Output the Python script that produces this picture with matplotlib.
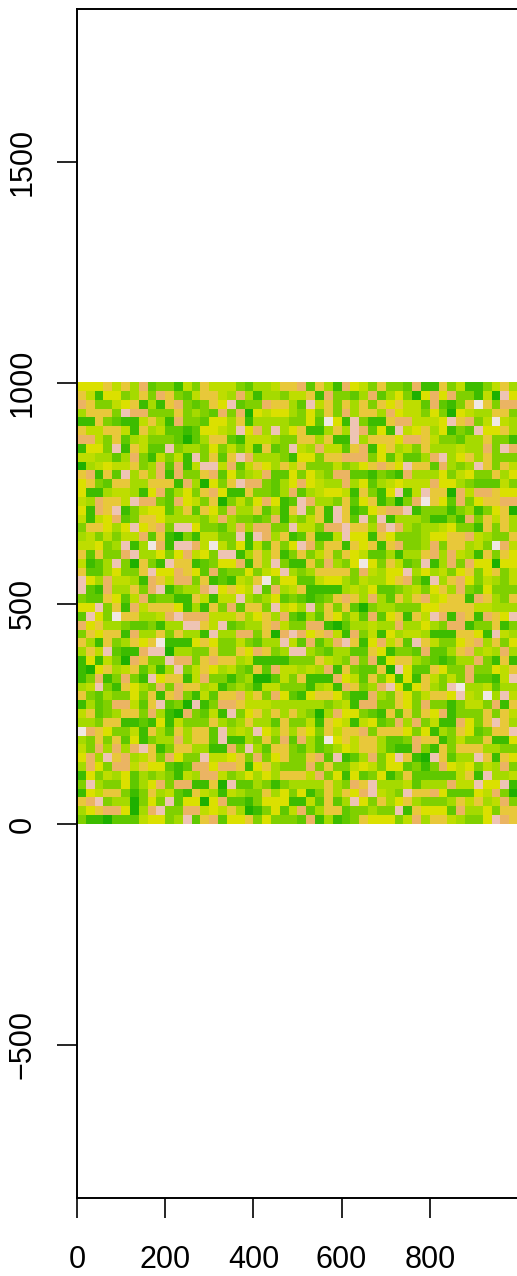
import matplotlib

matplotlib.use("Agg")

import matplotlib.pyplot as plt
import numpy as np
from matplotlib.colors import ListedColormap

plt.rcParams["font.family"] = ["Liberation Sans", "DejaVu Sans"]

# colour class of each cell, top row first
cells_left = [
    "66675 74823 31537 55532 44577", "75166 34738 73257 75484 14435",
    "87335 67141 78323 76923 38774", "47773 98833 37343 28380 65664",
    "11732 11574 18332 66471 44443", "75577 51745 22126 65496 84946",
    "88537 24533 32024 77215 55433", "16639 17522 93443 63535 17239",
    "55442 48315 35193 72798 44431", "04565 57348 28159 95825 76475",
    "78172 94748 18337 82634 58226", "67327 74477 71840 63798 83246",
    "61145 54168 24637 86117 33248", "54877 59883 28653 70353 68612",
    "61879 13566 24727 63844 72417", "51568 23776 44443 58433 23814",
    "37764 69678 39963 32484 88339", "45353 55827 10315 53391 98471",
    "55634 914a8 19985 a5361 52736", "72733 89446 36856 39914 74713",
    "51249 30731 97712 36681 74931", "72246 33796 68762 82336 35694",
    "96485 54187 58837 12154 7a366", "92184 47389 13448 96765 92845",
    "32276 25823 31175 15594 34623", "66937 18577 76141 73827 73956",
    "2963a 77445 89888 55574 67482", "86744 32231 44997 59234 47853",
    "37677 18447 37441 94488 37089", "74173 4767a 11167 63353 24495",
    "47592 11899 04433 73376 87349", "16153 08733 98837 87745 11113",
    "10674 57241 49357 64532 72855", "13813 83196 77158 33134 00253",
    "45931 76438 38774 51343 15533", "73243 36371 78315 27785 73862",
    "14238 85279 23091 38875 55444", "57234 77384 10832 51936 74747",
    "44377 11216 15333 74347 44273", "a8763 35174 27477 29454 96474",
    "43737 26134 48477 29114 37382", "53848 48971 37744 11839 42773",
    "68497 84573 86339 55673 83673", "48638 85766 21288 68871 67433",
    "16354 62434 31548 85346 46477", "39433 62468 38811 70922 43134",
    "16577 31374 52175 41543 37463", "78934 40363 92660 68221 36661",
    "46788 60489 33885 65740 13625", "31102 22566 34927 82667 36333",
]
cells_right = [
    "82741 86537 33281 17351 13574", "57183 32482 46306 86833 15096",
    "29573 74737 67552 82137 a7388", "36373 84774 86553 63065 44773",
    "362a6 19311 78855 56978 35a54", "71147 49826 19567 46132 96674",
    "77471 19477 76887 53324 47331", "54855 27816 74537 44454 48398",
    "66377 88836 25224 89467 47333", "73335 34678 76977 28434 97375",
    "36438 82213 21844 46356 33746", "86544 84624 56555 86643 22253",
    "24566 51731 69159 77085 88766", "98443 72671 3038a 76283 67788",
    "93719 71267 88913 33134 13670", "35719 72939 14443 11318 37574",
    "55388 97748 98434 45633 17374", "27115 96617 63334 66778 54337",
    "98377 17671 78334 83774 53a85", "73573 76522 41447 84854 17376",
    "17384 36a63 75239 14838 66066", "34777 73854 66946 45367 36735",
    "22566 43544 67831 94786 35435", "71111 45462 23453 67483 26333",
    "21237 87484 27478 56771 87437", "49373 72034 43336 67777 55444",
    "14276 35282 67175 98187 18769", "38810 24454 48446 43881 33713",
    "86785 18351 64554 11177 61954", "28248 97168 57297 53367 84736",
    "94324 42276 13328 22478 45484", "33754 38381 67743 21244 83171",
    "45481 73227 09622 76338 33657", "71118 65273 61617 53538 22159",
    "31451 87348 96167 439a4 45244", "16776 31184 37635 77695 4a495",
    "44434 51883 37638 33135 53817", "43048 66321 72737 68133 37375",
    "35176 51562 38483 51186 37974", "76375 77837 77636 14376 23779",
    "842a6 75774 22387 71353 37116", "24234 65774 21183 17377 74433",
    "37829 12483 69710 97244 97176", "38373 35653 66231 38656 35483",
    "75836 16236 13722 22257 19445", "44474 38794 44524 44855 96691",
    "61374 76895 43977 86222 65830", "15272 49637 46743 33475 74583",
    "82477 23343 39176 66284 46377", "28141 23766 63584 77543 36987",
]
palette = ["#1DB000", "#3CBC00", "#5FC800", "#80D000", "#A5DA00", "#BEDD00",
           "#DBE000", "#E8C83A", "#EBB463", "#EEC4B4", "#F0E8E4"]
x_ticks = [0, 200, 400, 600, 800]
y_ticks = [-500, 0, 500, 1000, 1500]

rows = [(a + b).replace(" ", "") for a, b in zip(cells_left, cells_right)]
grid = np.array([[int(c, 16) for c in row] for row in rows])

fig = plt.figure(figsize=(5.17, 12.76), dpi=100)
ax = fig.add_axes([77 / 517, 78 / 1276, 441 / 517, 1189 / 1276])
ax.imshow(grid, cmap=ListedColormap(palette), vmin=-0.5, vmax=10.5,
          extent=(0, 1000, 0, 1000), interpolation="nearest", aspect="auto")
ax.set_xlim(0, 1000)
ax.set_ylim(-847, 1847)

ax.set_xticks(x_ticks)
ax.set_yticks(y_ticks)
ax.set_yticklabels([str(t).replace("-", "\u2212") for t in y_ticks],
                   rotation=90, va="center")
ax.tick_params(axis="both", length=14.5, width=1.2, labelsize=22)
ax.tick_params(axis="x", pad=19)
ax.tick_params(axis="y", pad=14)
for spine in ax.spines.values():
    spine.set_linewidth(1.4)

fig.savefig("out.png", dpi=100)
plt.close(fig)
